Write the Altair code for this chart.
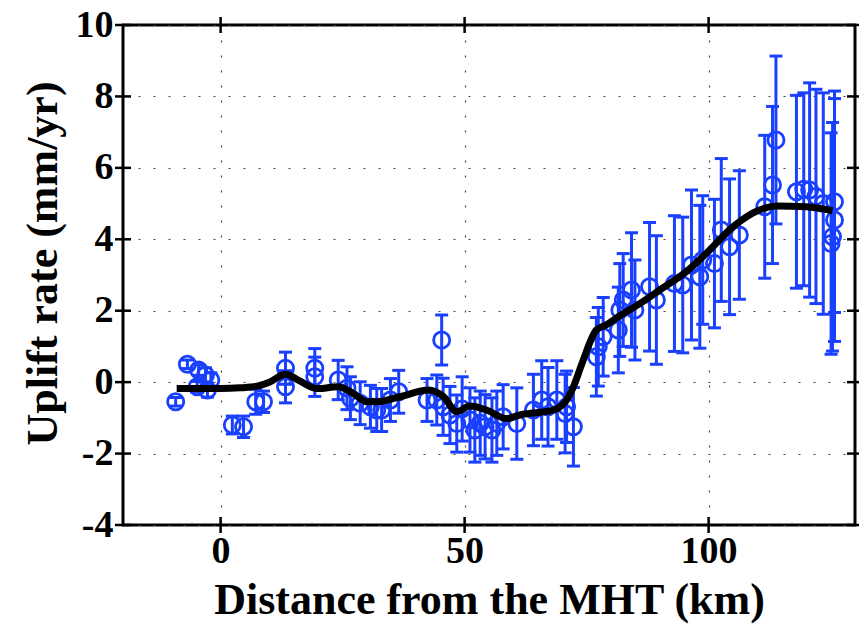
import altair as alt
import pandas as pd

# Observed uplift points: distance (km), rate (mm/yr), 1-sigma error
dist = [-9.2, -6.8, -4.5, -3.1, -2.0, -4.8, -2.7, 2.4, 4.7, 7.2, 8.8, 13.3, 13.3,
        19.3, 19.3, 24.1, 25.9, 26.6, 28.6, 30.7, 32.0, 33.0, 34.8, 36.5, 42.3,
        44.3, 45.3, 45.6, 47.0, 48.4, 49.5, 51.1, 52.1, 53.2, 54.2, 55.6, 56.6,
        57.9, 60.7, 64.1, 65.8, 67.1, 68.9, 70.6, 72.3, 70.9, 77.0, 77.4, 78.4,
        81.5, 81.8, 82.5, 84.2, 84.9, 87.9, 89.3, 93.0, 94.7, 96.5, 98.2, 98.8,
        101.2, 102.6, 104.3, 106.3, 111.5, 113.1, 113.8, 118.0, 119.5, 120.7,
        122.0, 123.5, 125.8, 125.8, 125.4, 125.1]
rate = [-0.55, 0.50, 0.34, 0.20, 0.06, -0.13, -0.22, -1.20, -1.25, -0.55, -0.55,
        0.39, -0.13, 0.39, 0.15, 0.06, -0.17, -0.45, -0.59, -0.69, -0.78, -0.78,
        -0.50, -0.27, -0.50, -0.50, 1.18, -0.69, -0.92, -1.16, -0.75, -1.06, -1.34,
        -1.15, -1.25, -1.34, -1.15, -0.97, -1.16, -0.78, -0.50, -0.69, -0.50, -0.88,
        -1.25, -0.69, 0.71, 0.99, 1.27, 1.46, 2.02, 2.30, 2.58, 2.02, 2.67, 2.30,
        2.76, 2.72, 3.28, 2.95, 3.42, 3.32, 4.26, 3.79, 4.12, 4.91, 5.52, 6.78,
        5.33, 5.40, 5.38, 5.20, 5.00, 5.05, 4.54, 4.07, 3.88]
err = [0.12, 0.12, 0.15, 0.2, 0.2, 0.15, 0.2, 0.25, 0.3, 0.35, 0.3, 0.45, 0.45,
       0.55, 0.55, 0.55, 0.6, 0.6, 0.6, 0.6, 0.6, 0.6, 0.6, 0.6, 0.6,
       0.7, 0.7, 0.8, 0.8, 0.8, 0.9, 0.9, 0.9, 0.9, 0.9, 0.9, 0.9,
       0.9, 1.0, 1.0, 1.1, 1.1, 1.1, 1.1, 1.1, 1.0, 1.1, 1.1, 1.1,
       1.2, 1.3, 1.3, 1.6, 1.4, 1.8, 1.8, 1.9, 1.9, 2.1, 2.0, 1.8,
       1.8, 2.0, 1.9, 1.8, 2.0, 2.2, 2.35, 2.7, 2.7, 3.0,
       3.0, 3.1, 3.1, 3.4, 3.2, 3.1]

# Smoothed model curve
curve_x = [-9, -5, 0, 4, 7.5, 10, 13.3, 16, 19.8, 24.1, 27, 30, 32, 36.8, 42.6,
           45.7, 48.4, 51.1, 54.5, 58.6, 61.3, 65, 68.2, 70.9, 72.3, 74, 77, 79,
           81.5, 85.9, 90, 95.4, 99.5, 105, 110.4, 114, 120, 125.4]
curve_y = [-0.18, -0.18, -0.18, -0.16, -0.11, 0.0, 0.22, 0.05, -0.18, -0.13, -0.3,
           -0.55, -0.55, -0.41, -0.22, -0.41, -0.83, -0.67, -0.78, -1.02, -0.92,
           -0.85, -0.78, -0.5, -0.13, 0.5, 1.46, 1.6, 1.83, 2.2, 2.58, 3.09, 3.6,
           4.35, 4.82, 4.93, 4.91, 4.8]

x_ticks = [0, 50, 100]
y_ticks = [-4, -2, 0, 2, 4, 6, 8, 10]

BLUE = "#1a40ff"
FONT = "Liberation Serif"
W, H = 732, 500

pts = pd.DataFrame({"d": dist, "r": rate, "e": err})
pts["lo"] = pts["r"] - pts["e"]
pts["hi"] = pts["r"] + pts["e"]
curve = pd.DataFrame({"d": curve_x, "r": curve_y})

xs = alt.Scale(domain=[-20, 130], nice=False, zero=False)
ys = alt.Scale(domain=[-4, 10], nice=False, zero=False)

common = dict(grid=True, gridDash=[2, 13], gridColor="#444", gridWidth=1.2,
              gridOpacity=1, tickSize=0, domain=False, labelFont=FONT,
              labelFontSize=38, labelFontWeight="bold", labelColor="black",
              labelExpr="'' + datum.value", titleFont=FONT,
              titleFontWeight="bold", titleColor="black")

xaxis = alt.Axis(values=x_ticks, labelPadding=7,
                 title="Distance from the MHT (km)", titleFontSize=44,
                 titlePadding=8, **common)
yaxis = alt.Axis(values=y_ticks, labelPadding=10,
                 title="Uplift rate (mm/yr)", titleFontSize=44,
                 titlePadding=10, titleY=238, **common)

base = alt.Chart(pts)

bars = base.mark_rule(color=BLUE, strokeWidth=3).encode(
    x=alt.X("d:Q", scale=xs, axis=xaxis),
    y=alt.Y("lo:Q", scale=ys, axis=yaxis),
    y2="hi:Q",
)
cap_lo = base.mark_tick(color=BLUE, orient="horizontal", size=13, thickness=3,
                        opacity=1).encode(
    x=alt.X("d:Q", scale=xs), y=alt.Y("lo:Q", scale=ys))
cap_hi = base.mark_tick(color=BLUE, orient="horizontal", size=13, thickness=3,
                        opacity=1).encode(
    x=alt.X("d:Q", scale=xs), y=alt.Y("hi:Q", scale=ys))
circles = base.mark_point(shape="circle", filled=False, color=BLUE, size=260,
                          strokeWidth=2.8, opacity=1).encode(
    x=alt.X("d:Q", scale=xs), y=alt.Y("r:Q", scale=ys))

line = alt.Chart(curve).mark_line(color="black", strokeWidth=7,
                                  interpolate="monotone").encode(
    x=alt.X("d:Q", scale=xs), y=alt.Y("r:Q", scale=ys))

# inward tick marks on all four sides
yt = pd.DataFrame({"v": y_ticks})
xt = pd.DataFrame({"v": x_ticks})
tk = dict(color="black", size=16, thickness=2.5, opacity=1)
tl = alt.Chart(yt).mark_tick(orient="horizontal", **tk).encode(
    y=alt.Y("v:Q", scale=ys), x=alt.value(0))
tr = alt.Chart(yt).mark_tick(orient="horizontal", **tk).encode(
    y=alt.Y("v:Q", scale=ys), x=alt.value(W))
tb = alt.Chart(xt).mark_tick(orient="vertical", **tk).encode(
    x=alt.X("v:Q", scale=xs), y=alt.value(H))
tt = alt.Chart(xt).mark_tick(orient="vertical", **tk).encode(
    x=alt.X("v:Q", scale=xs), y=alt.value(0))

chart = alt.layer(bars, cap_lo, cap_hi, circles, line, tl, tr, tb, tt).properties(
    width=W, height=H,
    autosize=alt.AutoSizeParams(type="none"),
    padding={"left": 123, "top": 25, "right": 4, "bottom": 99},
    background="white",
).configure_view(stroke="black", strokeWidth=3)

chart.save("out.html", embed_options={"renderer": "svg", "actions": False})
